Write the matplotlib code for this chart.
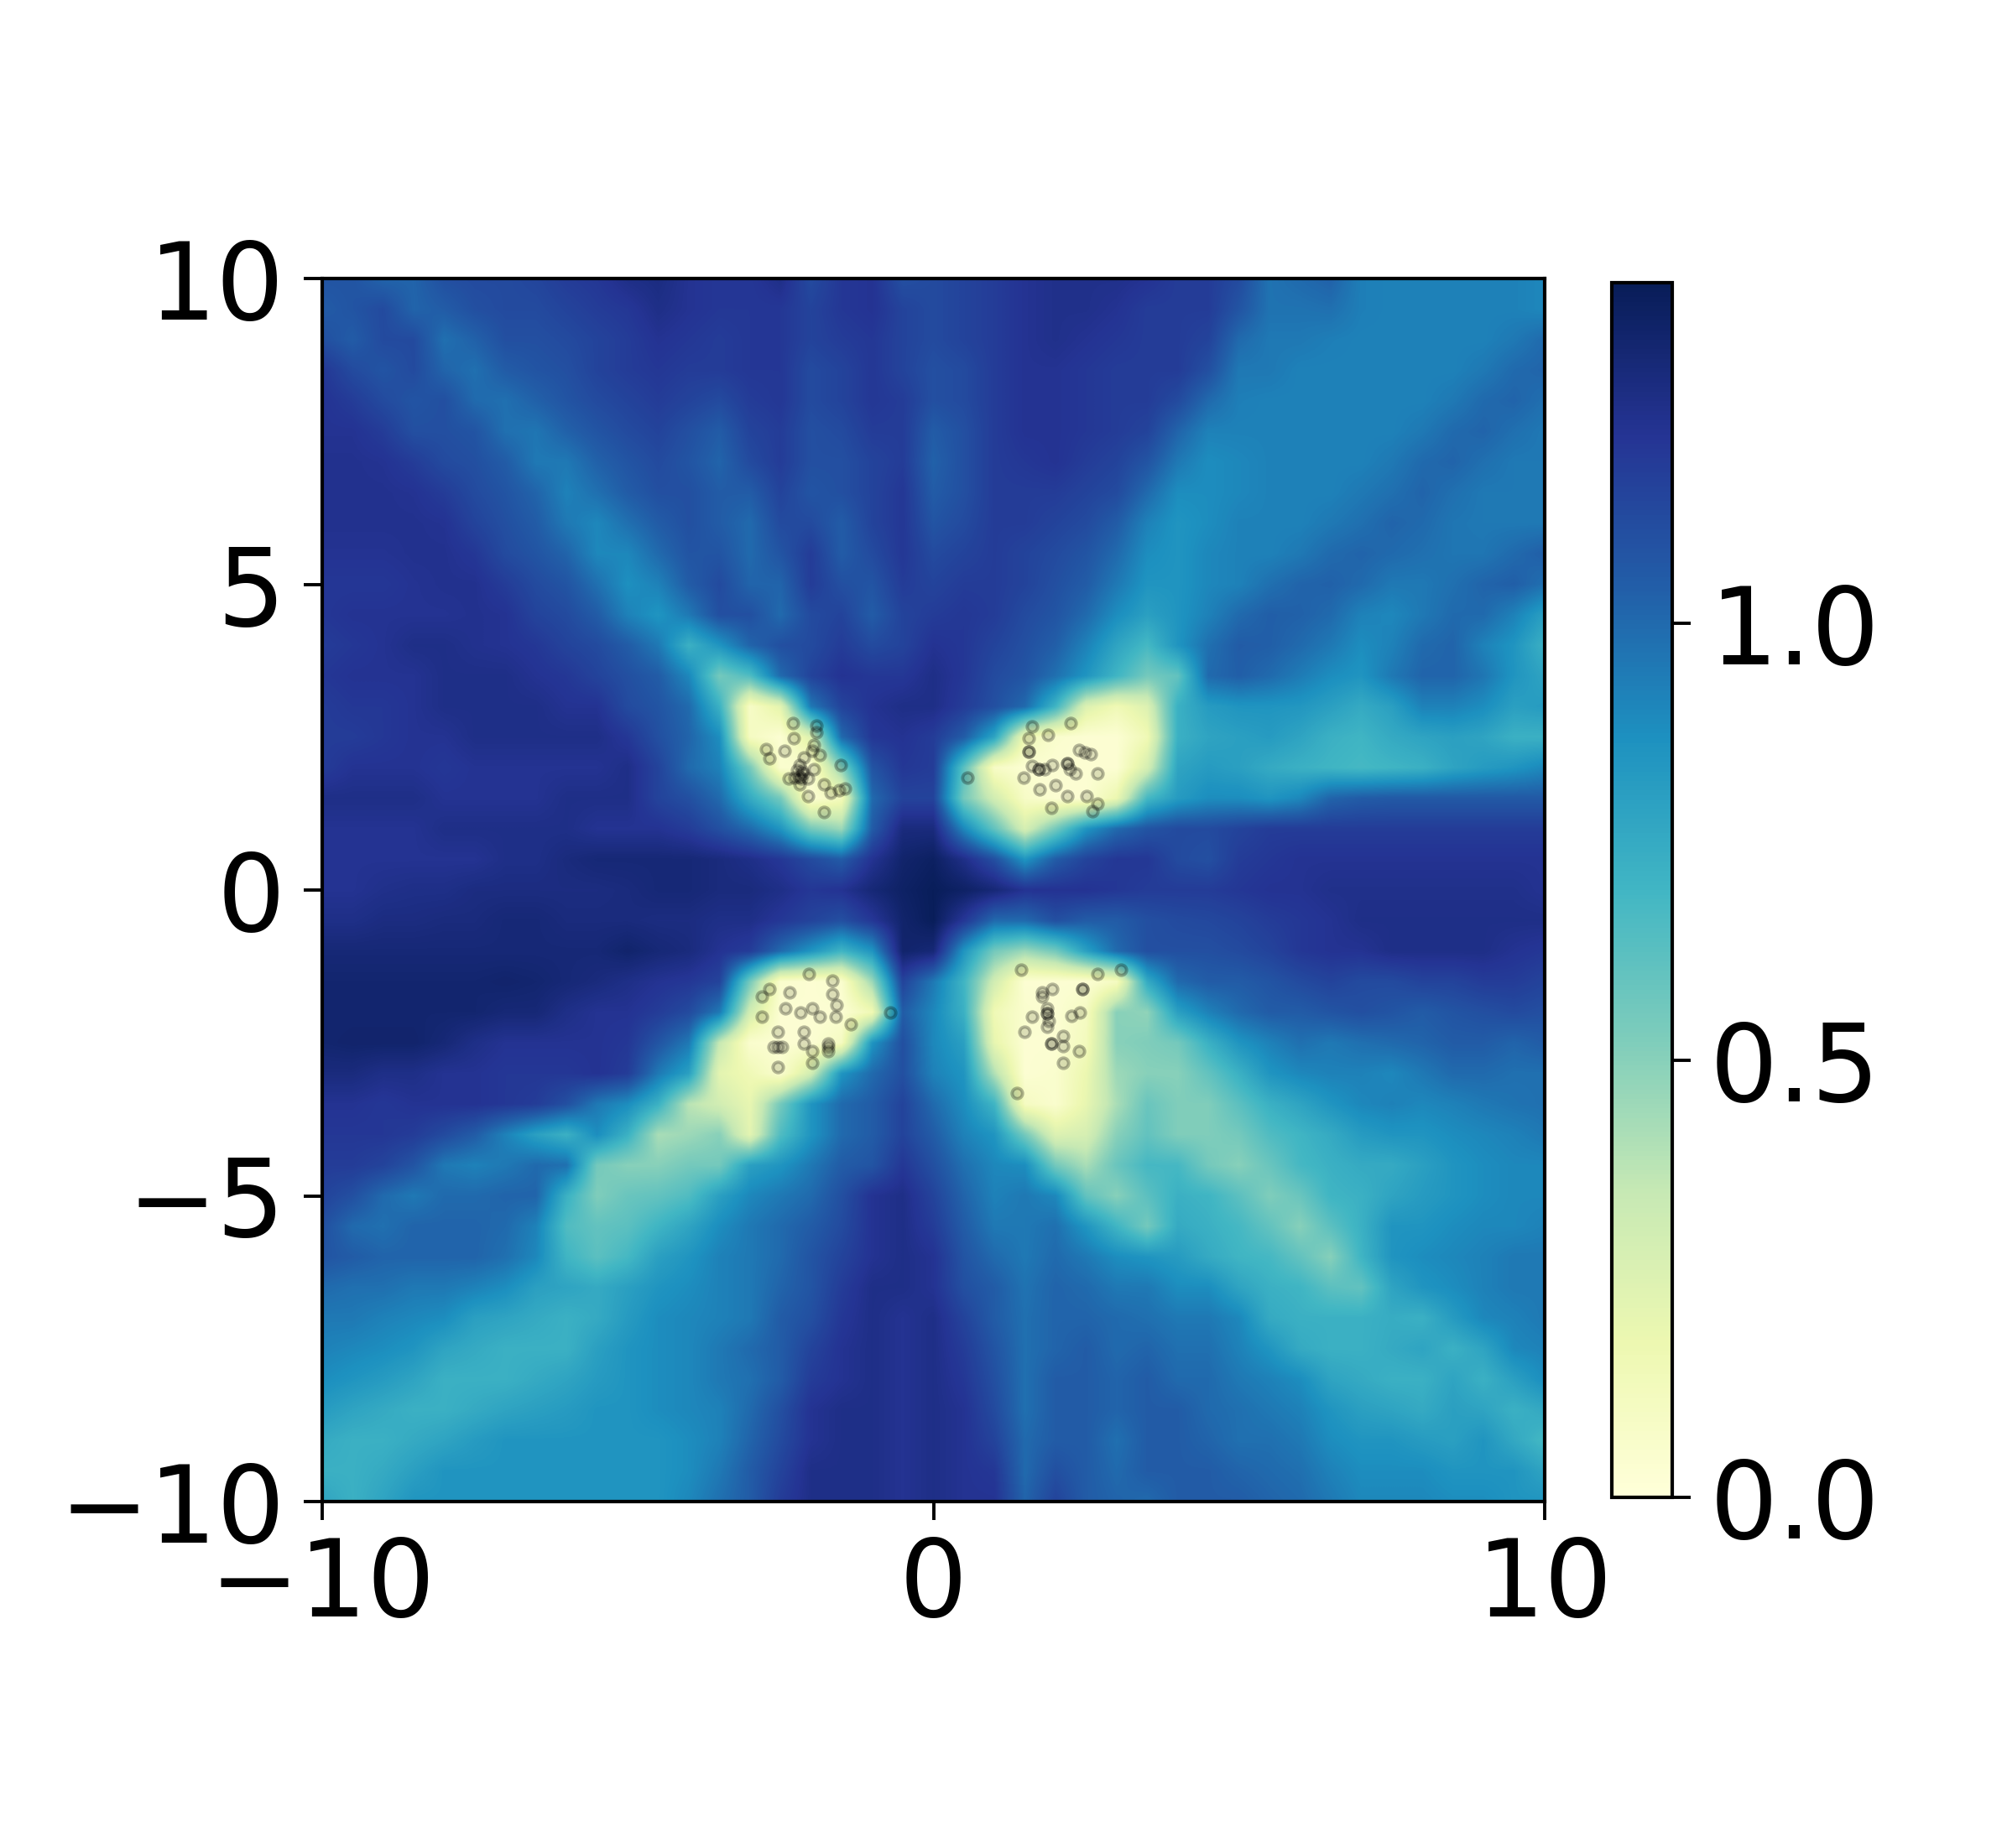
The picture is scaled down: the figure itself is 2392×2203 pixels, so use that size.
import numpy as np
import matplotlib
matplotlib.use('Agg')
import matplotlib.pyplot as plt

# heat values in hundredths, rows from y=10 down to y=-10, columns x=-10..10, step 0.5
grid_x = np.arange(41) * 0.5 - 10
grid_y = 10 - np.arange(41) * 0.5
heat_rows = [
    [108,108,102,102,110,112,112,114,118,120,125,127,122,120,120,125,112,120,122,110, 112,115,118,122,124,124,124,122,118,118,112,97,100,103,93,92,92,92,92,92,90],
    [105,108,112,102,105,110,112,112,115,118,120,125,122,120,120,120,115,120,122,115, 112,115,118,122,124,124,122,118,118,118,108,97,97,98,93,92,92,92,92,92,90],
    [110,105,112,112,98,103,110,110,112,115,118,122,120,118,120,120,115,118,120,115, 112,115,118,122,124,122,120,118,118,115,100,95,95,93,92,92,92,92,92,95,100],
    [120,112,108,112,102,98,105,108,110,115,118,120,118,118,120,120,112,115,120,115, 110,112,118,122,122,120,118,118,118,110,95,95,92,92,92,92,92,92,95,100,102],
    [122,118,112,108,110,100,98,103,108,112,115,118,115,112,118,120,112,115,120,118, 110,112,118,122,122,120,118,118,112,100,93,92,92,92,92,92,92,95,100,102,98],
    [122,122,118,110,110,108,98,96,103,108,112,115,110,105,115,118,110,112,118,118, 105,110,118,122,122,120,118,115,102,92,92,92,92,92,92,92,95,100,102,98,95],
    [123,123,122,118,112,110,105,95,95,103,108,112,108,102,112,118,110,110,115,118, 103,110,118,120,122,118,115,108,95,88,90,92,92,92,92,95,100,102,98,95,95],
    [123,123,123,122,118,112,108,102,92,98,105,110,110,105,105,115,108,110,115,120, 105,110,118,118,118,115,112,100,88,88,90,92,92,92,95,98,102,98,95,95,95],
    [123,123,123,123,122,115,110,105,95,90,98,105,110,105,100,112,112,105,115,120, 108,112,118,118,115,112,105,92,85,88,92,92,92,95,98,102,100,96,95,95,95],
    [122,122,122,123,123,120,112,108,102,90,90,100,108,108,100,108,118,105,112,120, 112,115,118,115,112,108,100,88,85,90,92,92,95,100,102,100,98,96,96,100,104],
    [120,120,120,122,123,123,118,112,108,98,87,92,105,112,102,102,118,110,108,118, 115,118,118,115,110,105,95,85,85,90,92,98,102,103,100,95,95,98,102,104,98],
    [120,122,122,122,122,123,122,115,112,105,92,85,95,110,110,100,112,115,105,115, 118,120,118,112,108,100,88,80,85,92,100,104,103,100,92,90,95,100,100,92,80],
    [118,120,122,125,125,123,122,120,115,112,105,95,72,85,102,110,112,118,112,115, 122,120,115,110,104,92,78,68,85,98,105,104,100,95,88,92,100,102,92,85,72],
    [120,122,122,122,125,125,125,122,120,115,110,105,90,55,65,100,115,122,120,120, 125,120,112,108,98,85,70,55,60,100,104,100,94,88,85,95,102,102,96,85,78],
    [118,120,120,122,125,125,125,125,122,122,112,108,100,72,8,22,95,115,122,125, 125,118,110,100,70,25,15,25,72,82,85,85,84,80,75,80,92,92,88,80,82],
    [118,118,120,122,122,125,125,125,125,125,120,110,102,88,10,3,25,100,120,122, 118,105,78,15,5,3,3,15,72,78,80,82,78,72,70,75,78,80,78,72,72],
    [118,122,122,122,120,122,122,122,122,122,125,115,100,92,55,5,3,50,108,120, 118,62,8,3,3,3,3,28,78,82,80,75,72,70,68,70,72,78,82,85,90],
    [125,125,125,125,122,122,122,122,125,125,125,115,110,100,75,55,3,12,100,115, 115,55,30,8,3,3,18,68,82,88,88,85,90,102,105,106,106,106,106,106,106],
    [122,122,122,122,125,125,125,125,125,122,122,122,118,110,100,85,55,45,105,128, 128,90,60,28,55,85,100,108,112,112,115,118,118,118,118,118,118,118,118,118,118],
    [122,122,122,122,122,122,125,125,128,130,130,130,130,128,125,120,112,105,122,133, 136,125,110,85,105,115,120,120,112,110,118,120,122,122,122,122,122,122,122,122,122],
    [122,122,124,125,125,127,127,127,127,127,128,130,130,128,128,125,120,122,130,135, 138,135,130,122,122,122,120,118,118,118,120,122,122,124,124,124,124,124,124,124,122],
    [125,125,127,127,128,128,130,130,128,128,128,127,127,125,125,120,115,110,120,133, 138,120,100,100,110,105,105,110,112,113,115,118,120,122,125,125,125,125,125,125,125],
    [130,130,130,130,130,130,130,130,130,130,133,130,128,122,118,100,85,70,85,133, 130,85,55,45,55,80,100,110,110,110,112,115,120,122,122,125,125,125,125,122,120],
    [132,132,132,132,132,132,133,132,130,128,125,122,120,115,55,5,3,5,45,115, 95,70,30,3,3,3,10,75,100,105,105,108,112,115,112,112,115,115,118,118,115],
    [132,132,132,132,132,132,130,130,125,122,122,118,112,95,30,3,3,3,15,105, 90,72,15,5,3,10,50,48,80,92,100,105,105,108,110,108,105,108,110,112,110],
    [132,133,133,133,130,125,122,122,122,122,120,108,95,35,5,3,3,10,85,110, 90,80,20,3,3,12,50,52,55,72,85,92,98,95,98,100,102,105,105,102,105],
    [128,128,125,125,122,122,120,120,120,122,118,95,80,22,15,5,30,85,100,110, 92,85,40,3,5,18,45,50,50,60,72,85,90,92,92,90,95,100,100,98,98],
    [122,122,120,122,122,122,120,118,110,95,88,72,38,30,20,55,85,100,105,115, 100,88,70,10,5,20,42,58,52,52,62,72,78,85,90,92,90,92,95,97,98],
    [120,120,120,118,112,105,92,80,72,88,72,42,45,50,22,65,85,100,105,115, 105,92,85,55,25,28,50,60,52,52,55,65,70,75,82,85,85,88,90,92,95],
    [118,118,115,108,95,92,95,100,98,55,50,50,55,55,80,85,95,105,108,120, 110,98,90,88,55,42,58,68,68,55,50,58,68,72,75,75,80,85,88,90,90],
    [115,110,100,95,100,100,102,102,72,52,58,60,65,80,90,95,100,110,122,125, 115,102,92,95,90,60,50,62,72,70,62,52,58,70,72,78,82,85,88,90,90],
    [110,100,98,102,102,102,100,92,65,60,62,70,78,88,95,100,105,112,122,125, 118,105,95,95,98,85,70,55,75,72,68,60,50,62,72,85,85,88,90,90,92],
    [108,105,102,102,102,102,98,90,70,62,68,80,85,92,95,100,108,115,122,125, 122,108,100,95,100,95,88,85,82,75,70,68,60,50,70,85,88,90,92,95,95],
    [100,98,98,95,95,92,88,80,78,75,80,85,88,92,95,102,108,118,125,125, 122,110,105,97,102,100,95,95,88,88,78,72,70,62,60,78,85,88,92,95,95],
    [95,95,92,90,88,80,78,75,72,75,82,88,90,92,95,105,110,120,125,122, 125,115,105,98,102,102,100,98,95,95,90,75,72,72,72,74,72,82,90,92,95],
    [92,90,88,85,78,75,72,72,72,80,85,88,90,95,100,105,115,122,125,122, 125,118,108,98,102,105,100,102,98,98,92,85,75,72,72,75,78,72,78,90,92],
    [88,85,82,78,72,72,72,75,78,82,85,88,90,95,98,105,118,122,125,122, 125,120,110,98,105,105,102,105,100,100,95,92,88,78,75,72,72,78,72,80,88],
    [82,78,75,72,72,75,78,80,82,85,85,88,90,92,100,110,122,125,125,122, 125,122,112,98,105,105,102,105,105,100,98,95,92,85,80,78,75,80,78,72,76],
    [75,72,72,75,78,82,85,85,85,85,85,85,88,92,102,112,122,125,125,122, 125,122,115,100,105,105,98,105,105,102,98,98,95,88,85,85,82,80,85,76,68],
    [72,72,75,80,85,85,85,85,85,85,85,85,88,95,105,115,125,125,125,122, 125,122,120,100,110,105,100,105,105,105,102,100,98,92,88,88,88,85,85,85,78],
    [78,72,78,85,85,85,85,85,85,85,85,85,90,98,105,118,125,125,125,122, 125,122,122,102,115,105,102,100,105,105,105,102,100,95,90,90,90,88,88,85,85],
]

# training points, four clusters (some doubled where the picture shows darker overlaps)
pts_x = [-2.30,-2.29,-2.44,-2.74,-2.68,-1.91,-1.91,-1.96,-1.98,-1.86,-2.12,-1.52,-1.96,-2.19,-2.23,-2.14,-2.27,-2.37,-2.16,-2.05,-2.19,-1.79,-1.68,-1.45,-1.54,-2.05,-1.79,-2.19,-2.15,
         1.61,2.24,1.87,1.56,1.56,2.38,2.48,2.57,0.56,1.48,1.61,1.72,1.82,1.94,2.19,2.23,2.33,2.68,2.00,1.74,2.19,2.51,1.93,2.68,2.60,2.19,1.72,1.56,
         -2.04,-1.65,-1.65,-2.68,-2.81,-2.35,-2.42,-2.18,-1.98,-1.86,-1.59,-1.60,-2.81,-1.35,-0.71,-2.55,-2.12,-2.12,-2.61,-2.48,-1.98,-1.72,-1.72,-1.98,-2.55,-2.55,-1.72,
         1.43,2.68,3.07,1.94,2.44,1.78,1.78,1.86,2.39,2.26,1.61,1.86,1.89,1.86,1.49,2.12,1.93,2.12,2.38,2.12,1.37,1.86,2.44,1.93]
pts_y = [2.73,2.48,2.28,2.30,2.15,2.69,2.58,2.37,2.28,2.21,2.17,2.04,1.98,2.04,1.96,1.91,1.84,1.82,1.82,1.82,1.73,1.73,1.59,1.66,1.63,1.54,1.28,1.85,1.95,
         2.67,2.73,2.54,2.48,2.26,2.29,2.25,2.22,1.84,1.84,2.03,1.98,1.98,2.04,2.07,1.98,1.91,1.91,1.71,1.65,1.54,1.54,1.34,1.41,1.29,2.07,1.98,2.26,
         -1.37,-1.48,-1.70,-1.62,-1.74,-1.67,-1.93,-2.00,-1.93,-2.07,-1.88,-2.07,-2.07,-2.19,-2.00,-2.32,-2.32,-2.51,-2.57,-2.57,-2.64,-2.51,-2.64,-2.82,-2.89,-2.57,-2.57,
         -1.30,-1.37,-1.30,-1.62,-1.62,-1.67,-1.74,-1.93,-2.00,-2.06,-2.07,-2.02,-2.14,-2.24,-2.32,-2.39,-2.51,-2.55,-2.64,-2.82,-3.32,-2.02,-1.62,-2.51]

vmax = 1.39
W, H = 2392, 2203
FS = 46

fig = plt.figure(figsize=(W / 200, H / 200), dpi=200)
ax = fig.add_axes([384 / W, 1 - 1790 / H, 1457 / W, 1458 / H])
cax = fig.add_axes([1921 / W, 1 - 1785 / H, 72 / W, 1448 / H])

heat = np.array(heat_rows) / 100.0
im = ax.imshow(heat, cmap='YlGnBu', vmin=0, vmax=vmax, interpolation='bilinear', aspect='auto',
               extent=[grid_x[0] - 0.25, grid_x[-1] + 0.25, grid_y[-1] - 0.25, grid_y[0] + 0.25])
ax.scatter(pts_x, pts_y, s=20, facecolors=(0, 0, 0, 0.12), edgecolors=(0, 0, 0, 0.28), linewidths=1.4)
ax.set_xlim(-10, 10)
ax.set_ylim(-10, 10)
ax.set_xticks([-10, 0, 10])
ax.set_yticks([-10, -5, 0, 5, 10])
ax.tick_params(axis='x', labelsize=FS, length=8, width=1.4, pad=6)
ax.tick_params(axis='y', labelsize=FS, length=8, width=1.4, pad=8)
for s in ax.spines.values():
    s.set_linewidth(1.5)

cb = fig.colorbar(im, cax=cax)
cb.set_ticks([0, 0.5, 1.0])
cb.ax.tick_params(labelsize=FS, length=8, width=1.4, pad=8)
cb.outline.set_linewidth(1.5)

fig.savefig('out.png', dpi=200)
